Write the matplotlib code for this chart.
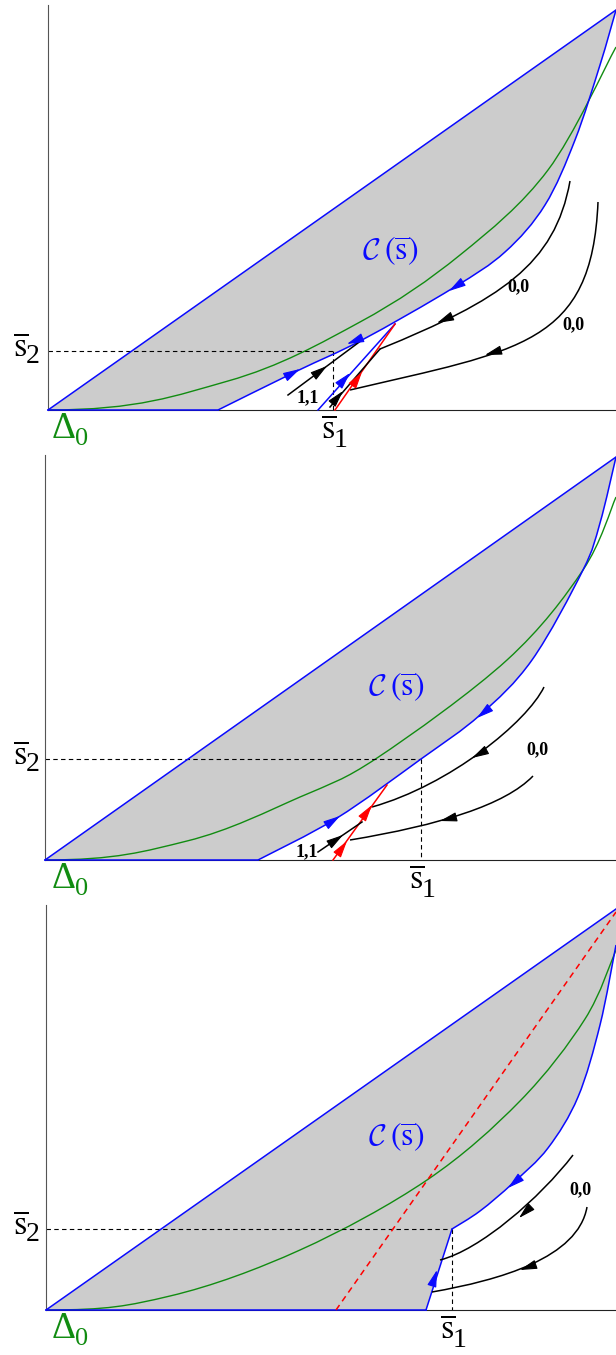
import matplotlib
matplotlib.use('Agg')
import matplotlib.pyplot as plt
import numpy as np
from matplotlib.path import Path
from matplotlib.patches import PathPatch, FancyArrowPatch

plt.rcParams['font.family'] = ['Liberation Serif', 'DejaVu Sans']

BLUE = '#0a0aff'
GREEN = '#118c11'
RED = '#ff0000'
FILL = '#cccccc'

# panel frames: origin x, origin y, top of y axis (picture pixels)
frames = [(48, 410, 5), (45, 860, 455), (46, 1310, 905)]

# ---- panel 1 ----
top1 = [(48, 410), (616, 10)]
low1 = [(218, 410), (297, 371), (362, 340), (453, 288), (505, 252), (545, 205),
        (575, 140), (600, 65), (616, 10)]
green1 = [(48, 410), (228, 381), (360, 322), (460, 255), (548, 170), (616, 47)]
s1_1, s2_1 = 333, 351
straight1 = {'blue': [(318, 410), (395, 324)], 'red': [(335, 410), (395, 324)],
             'black': [(330, 407), (380, 349)], 'black11': [(288, 395), (362, 340)]}
# trajectories as cubic Bezier control points
traj1 = [[(570, 181), (555, 265), (500, 300), (380, 349)],
         [(598, 202), (592, 345), (520, 350), (350, 390)]]
arrows1 = [(BLUE, (300, 369), (1, -0.55)), (BLUE, (347, 344), (-1, 0.4)),
           (BLUE, (449, 291), (-1, 0.65)), (BLUE, (350, 373), (77, -86)),
           (RED, (362, 372), (60, -86)), ('k', (343, 391), (50, -58)),
           ('k', (327, 366), (74, -55)), ('k', (437, 323), (-1, 0.45)),
           ('k', (485, 355), (-1, 0.3))]
labels1 = [((308, 398), '1,1'), ((518, 287), '0,0'), ((573, 325), '0,0')]

# ---- panel 2 ----
top2 = [(45, 860), (616, 457)]
low2 = [(258, 860), (337, 818), (421, 759), (480, 715), (532, 660), (583, 570),
        (600, 523), (616, 457)]
green2 = [(45, 860), (187, 841), (300, 797), (377, 758), (507, 660), (583, 570), (616, 497)]
s1_2, s2_2 = 421, 759
straight2 = {'red': [(333, 860), (387, 785)], 'black11': [(318, 852), (362, 822)]}
traj2 = [[(544, 687), (527, 722), (450, 785), (372, 807)],
         [(533, 776), (505, 805), (440, 825), (350, 840)]]
arrows2 = [(BLUE, (340, 816), (1, -0.66)), (BLUE, (477, 718), (-1, 0.8)),
           (RED, (347, 841), (54, -75)), (RED, (372, 805), (54, -75)),
           ('k', (343, 835), (44, -30)), ('k', (472, 758), (-1, 0.55)),
           ('k', (440, 821), (-1, 0.25))]
labels2 = [((307, 852), '1,1'), ((537, 750), '0,0')]

# ---- panel 3 ----
top3 = [(46, 1310), (616, 909)]
low3_line = [(426, 1310), (452, 1229)]
low3 = [(452, 1229), (480, 1211), (513, 1183), (548, 1148), (578, 1097), (600, 1025), (616, 945)]
green3 = [(46, 1310), (170, 1296), (300, 1250), (427, 1180), (520, 1101), (585, 1019), (616, 950)]
red3 = [(336, 1310), (616, 912)]
s1_3, s2_3 = 452, 1229
traj3 = [[(573, 1155), (540, 1198), (480, 1250), (440, 1260)],
         [(587, 1207), (578, 1258), (500, 1280), (432, 1292)]]
arrows3 = [(BLUE, (437, 1270), (26, -81)), (BLUE, (508, 1188), (-1, 0.85)),
           ('k', (519, 1218), (-1, 0.95)), ('k', (520, 1270), (-1, 0.35))]
labels3 = [((580, 1190), '0,0')]

cs_left = [(362, 259), (368, 695), (368, 1145)]


def smooth(pts, start=True, flat=False):
    pts = np.asarray(pts, float)
    verts, codes = [pts[0]], [Path.MOVETO if start else Path.LINETO]
    n = len(pts)
    for i in range(n - 1):
        p0 = pts[i - 1] if i > 0 else pts[i]
        p1, p2 = pts[i], pts[i + 1]
        p3 = pts[i + 2] if i + 2 < n else pts[i + 1]
        c1 = p1 + (p2 - p0) / 6
        if flat and i == 0:
            # leave the origin tangent to the axis
            c1 = np.array([p1[0] + (p2[0] - p1[0]) / 2, p1[1]])
        verts += [c1, p2 - (p3 - p1) / 6, p2]
        codes += [Path.CURVE4] * 3
    return verts, codes


def curve(ax, pts, color, lw=1.1, z=3, flat=False):
    v, c = smooth(pts, flat=flat)
    ax.add_patch(PathPatch(Path(v, c), fill=False, edgecolor=color, lw=lw,
                           zorder=z, clip_on=False))


def bezier(ax, ctrl, color, lw=1.1, z=3):
    codes = [Path.MOVETO, Path.CURVE4, Path.CURVE4, Path.CURVE4]
    ax.add_patch(PathPatch(Path(ctrl, codes), fill=False, edgecolor=color, lw=lw,
                           zorder=z, clip_on=False))


def seg(ax, pts, color, lw=1.1, ls='-', z=4):
    ax.plot([p[0] for p in pts], [p[1] for p in pts], color=color, lw=lw, ls=ls,
            zorder=z, clip_on=False)


def arrow(ax, color, tip, d):
    d = np.asarray(d, float)
    d = d / np.hypot(*d)
    tail = np.asarray(tip) - 9 * d
    ax.add_patch(FancyArrowPatch(tail, tip, arrowstyle='-|>,head_length=0.8,head_width=0.22',
                                 mutation_scale=13, color=color, lw=0.8,
                                 shrinkA=0, shrinkB=0, zorder=5, clip_on=False))


def sbar(ax, x, y, sub, dy, color='k'):
    # x = left of the s, y = baseline of the s
    ax.text(x, y, r'$\overline{\mathrm{s}}$', fontsize=25, color=color, math_fontfamily='stix',
            ha='left', va='baseline', clip_on=False)
    ax.text(x + 13, y + dy, sub, fontsize=20, color=color,
            ha='left', va='baseline', clip_on=False)


fig = plt.figure(figsize=(6.16, 13.55), dpi=100)

panels = [
    (top1, low1, None, green1, (s1_1, s2_1), traj1, arrows1, labels1),
    (top2, low2, None, green2, (s1_2, s2_2), traj2, arrows2, labels2),
    (top3, low3, low3_line, green3, (s1_3, s2_3), traj3, arrows3, labels3),
]

for k, (frame, pan) in enumerate(zip(frames, panels)):
    x0, y0, yt = frame
    top, low, lowline, green, (s1, s2), trajs, arrows, labels = pan
    ax = fig.add_axes([x0 / 616, 1 - y0 / 1355, (616 - x0) / 616, (y0 - yt) / 1355])
    ax.set_xlim(x0, 616)
    ax.set_ylim(y0, yt)
    ax.set_xticks([])
    ax.set_yticks([])
    for s in ['top', 'right']:
        ax.spines[s].set_visible(False)
    ax.spines['left'].set_color('#555555')
    ax.spines['bottom'].set_color('#222222')
    ax.patch.set_alpha(0)

    # shaded set C(s)
    v, c = smooth(low[::-1], start=False)
    verts = [top[0], top[1]] + v
    codes = [Path.MOVETO, Path.LINETO] + c
    if lowline:
        verts += [lowline[0]]
        codes += [Path.LINETO]
    verts += [top[0], top[0]]
    codes += [Path.LINETO, Path.CLOSEPOLY]
    ax.add_patch(PathPatch(Path(verts, codes), facecolor=FILL, edgecolor='none', zorder=1))

    seg(ax, top, BLUE, z=3)
    start = lowline[0] if lowline else low[0]
    seg(ax, [(x0, y0), (start[0], y0)], BLUE, z=3)
    curve(ax, low, BLUE)
    if lowline:
        seg(ax, lowline, BLUE, z=3)
    curve(ax, green, GREEN, lw=1.0, z=2, flat=True)

    # level lines
    seg(ax, [(x0, s2), (s1, s2)], 'k', lw=0.8, ls=(0, (4, 3)), z=2)
    seg(ax, [(s1, s2), (s1, y0)], 'k', lw=0.8, ls=(0, (4, 3)), z=2)

    if k == 0:
        for key, pts in straight1.items():
            seg(ax, pts, {'blue': BLUE, 'red': RED}.get(key, 'k'))
    if k == 1:
        for key, pts in straight2.items():
            seg(ax, pts, RED if key == 'red' else 'k')
    if k == 2:
        seg(ax, red3, RED, ls=(0, (4, 3)), z=3)

    for t in trajs:
        bezier(ax, t, 'k')
    for col, tip, d in arrows:
        arrow(ax, col, tip, d)
    for (x, y), txt in labels:
        ax.text(x, y, txt, fontsize=13, fontweight='bold', ha='center', va='center',
                clip_on=False)

    cx, cy = cs_left[k]
    ax.text(cx, cy, r'$\mathcal{C}$', fontsize=22, color=BLUE, math_fontfamily='cm',
            ha='left', va='baseline', clip_on=False)
    ax.text(cx + 22, cy, r'$(\overline{\mathrm{s}})$', fontsize=23, color=BLUE,
            math_fontfamily='stix', ha='left', va='baseline', clip_on=False)
    sbar(ax, 13, s2 + 5, '2', 7)
    sbar(ax, s1 - 12, y0 + 28, '1', 9)
    ax.text(52, y0 + 28, '\u0394', fontsize=27, color=GREEN, ha='left',
            va='baseline', clip_on=False)
    ax.text(75, y0 + 35, '0', fontsize=19, color=GREEN, ha='left',
            va='baseline', clip_on=False)

fig.savefig('out.png', dpi=100)
